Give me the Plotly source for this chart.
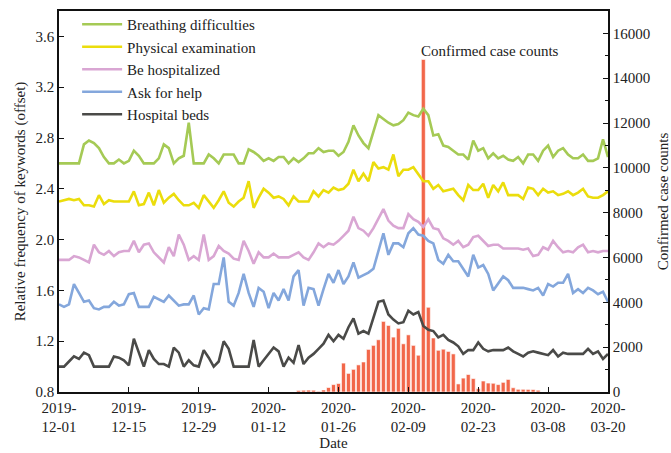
import pandas as pd
import plotly.graph_objects as go

# Daily keyword frequencies (already offset per keyword), 2019-12-01 .. 2020-03-20
start_date = "2019-12-01"
end_date = "2020-03-20"

breathing = [
    2.60, 2.60, 2.60, 2.60, 2.60, 2.75, 2.78, 2.76, 2.72, 2.65,
    2.60, 2.60, 2.63, 2.60, 2.62, 2.70, 2.66, 2.60, 2.60, 2.60,
    2.64, 2.75, 2.72, 2.60, 2.64, 2.66, 2.92, 2.60, 2.60, 2.60,
    2.67, 2.64, 2.60, 2.67, 2.67, 2.67, 2.60, 2.60, 2.71, 2.69,
    2.66, 2.62, 2.64, 2.62, 2.65, 2.65, 2.60, 2.64, 2.61, 2.64,
    2.68, 2.68, 2.72, 2.69, 2.70, 2.70, 2.66, 2.69, 2.77, 2.90,
    2.82, 2.76, 2.72, 2.85, 2.98, 2.95, 2.92, 2.90, 2.91, 2.94,
    3.00, 2.98, 2.97, 3.03, 2.98, 2.82, 2.83, 2.74, 2.73, 2.70,
    2.67, 2.67, 2.63, 2.78, 2.70, 2.72, 2.64, 2.68, 2.64, 2.66,
    2.63, 2.62, 2.65, 2.60, 2.67, 2.67, 2.62, 2.70, 2.74, 2.65,
    2.70, 2.72, 2.67, 2.64, 2.64, 2.67, 2.62, 2.62, 2.64, 2.79, 2.65,
]

physical_exam = [
    2.30, 2.31, 2.32, 2.31, 2.32, 2.27, 2.27, 2.26, 2.35, 2.28,
    2.31, 2.30, 2.30, 2.30, 2.30, 2.38, 2.27, 2.28, 2.37, 2.27,
    2.39, 2.29, 2.33, 2.36, 2.31, 2.27, 2.27, 2.29, 2.25, 2.35,
    2.30, 2.25, 2.31, 2.38, 2.29, 2.26, 2.30, 2.33, 2.46, 2.25,
    2.33, 2.40, 2.37, 2.33, 2.34, 2.32, 2.27, 2.34, 2.30, 2.30,
    2.30, 2.38, 2.34, 2.39, 2.37, 2.41, 2.39, 2.40, 2.44, 2.55,
    2.46, 2.52, 2.46, 2.61, 2.56, 2.57, 2.55, 2.67, 2.50, 2.55,
    2.55, 2.57, 2.51, 2.46, 2.46, 2.40, 2.43, 2.38, 2.39, 2.40,
    2.35, 2.31, 2.43, 2.39, 2.39, 2.44, 2.33, 2.43, 2.38, 2.45,
    2.35, 2.35, 2.35, 2.32, 2.41, 2.40, 2.35, 2.40, 2.37, 2.38,
    2.35, 2.36, 2.38, 2.35, 2.37, 2.40, 2.34, 2.33, 2.33, 2.35, 2.38,
]

hospitalized = [
    1.84, 1.84, 1.84, 1.87, 1.86, 1.84, 1.82, 1.96, 1.90, 1.88,
    1.91, 1.87, 1.90, 1.91, 1.91, 1.99, 1.90, 1.96, 1.97, 1.90,
    1.86, 1.82, 1.94, 1.87, 2.04, 1.96, 1.84, 1.87, 1.84, 2.04,
    1.84, 1.87, 1.95, 1.91, 1.89, 1.85, 1.84, 1.99, 1.91, 1.81,
    1.90, 1.86, 1.86, 1.89, 1.86, 1.86, 1.86, 1.88, 1.90, 1.86,
    1.84, 1.90, 1.97, 1.94, 1.97, 1.96, 1.99, 2.03, 2.07, 2.18,
    2.09, 2.07, 2.03, 2.09, 2.17, 2.24, 2.15, 2.11, 2.09, 2.09,
    2.20, 2.16, 2.14, 2.10, 2.16, 2.09, 2.08, 2.01, 1.99, 1.96,
    1.99, 1.94, 1.96, 2.02, 2.03, 1.99, 1.95, 1.96, 1.96, 1.93,
    1.93, 1.93, 1.93, 1.92, 1.93, 1.87, 1.88, 1.94, 1.92, 1.99,
    1.94, 1.90, 1.91, 1.90, 1.94, 1.96, 1.90, 1.91, 1.90, 1.91, 1.91,
]

ask_for_help = [
    1.49, 1.47, 1.49, 1.65, 1.58, 1.51, 1.52, 1.46, 1.45, 1.47,
    1.47, 1.51, 1.48, 1.49, 1.57, 1.58, 1.47, 1.47, 1.47, 1.55,
    1.53, 1.51, 1.56, 1.52, 1.48, 1.49, 1.49, 1.56, 1.41, 1.46,
    1.45, 1.65, 1.65, 1.86, 1.51, 1.48, 1.58, 1.73, 1.58, 1.47,
    1.62, 1.59, 1.46, 1.58, 1.52, 1.61, 1.52, 1.71, 1.76, 1.48,
    1.62, 1.61, 1.48, 1.61, 1.73, 1.66, 1.76, 1.65, 1.71, 1.82,
    1.70, 1.72, 1.74, 1.77, 1.92, 2.05, 1.88, 1.97, 1.97, 1.94,
    2.05, 2.09, 2.04, 2.03, 1.99, 1.97, 1.84, 1.81, 1.88, 1.83,
    1.83, 1.77, 1.71, 1.88, 1.78, 1.80, 1.73, 1.60, 1.66, 1.71,
    1.68, 1.62, 1.62, 1.62, 1.61, 1.60, 1.62, 1.56, 1.65, 1.63,
    1.66, 1.66, 1.73, 1.58, 1.61, 1.58, 1.62, 1.60, 1.57, 1.59, 1.51,
]

hospital_beds = [
    1.00, 1.00, 1.04, 1.08, 1.06, 1.11, 1.09, 1.00, 1.00, 1.00,
    1.00, 1.08, 1.07, 1.05, 1.01, 1.22, 1.11, 1.00, 1.13, 1.06,
    1.02, 1.02, 1.00, 1.15, 1.11, 1.00, 1.05, 1.01, 1.00, 1.13,
    1.07, 1.00, 1.04, 1.20, 1.14, 1.00, 1.00, 1.00, 1.00, 1.21,
    1.00, 1.05, 1.10, 1.15, 1.12, 1.00, 1.07, 1.03, 1.17, 1.02,
    1.07, 1.10, 1.14, 1.18, 1.25, 1.20, 1.25, 1.22, 1.31, 1.38,
    1.26, 1.28, 1.26, 1.38, 1.51, 1.52, 1.41, 1.37, 1.34, 1.35,
    1.44, 1.41, 1.43, 1.32, 1.29, 1.28, 1.23, 1.25, 1.21, 1.19,
    1.16, 1.10, 1.13, 1.13, 1.19, 1.14, 1.12, 1.13, 1.13, 1.13,
    1.15, 1.12, 1.10, 1.08, 1.11, 1.12, 1.11, 1.10, 1.09, 1.13,
    1.08, 1.11, 1.10, 1.10, 1.10, 1.10, 1.14, 1.10, 1.12, 1.06, 1.10,
]

# Daily confirmed case counts, 2020-01-18 .. 2020-03-06
cases_start = "2020-01-18"
confirmed_cases = [
    70, 80, 85, 80, 30, 90, 200, 330, 380, 1290,
    830, 1010, 1210, 1340, 1900, 2080, 2330, 3150, 2970, 2450,
    2840, 2150, 2550, 2080, 1640, 14840, 3780, 2410, 1860, 1910,
    1810, 1700, 360, 620, 780, 600, 150, 490, 400, 390,
    330, 430, 560, 190, 120, 120, 115, 110, 80,
]

tick_dates = ["2019-12-01", "2019-12-15", "2019-12-29", "2020-01-12", "2020-01-26",
              "2020-02-09", "2020-02-23", "2020-03-08", "2020-03-20"]
tick_labels = [d[:5] + "<br>" + d[5:] for d in tick_dates]
left_ticks = [0.8, 1.2, 1.6, 2.0, 2.4, 2.8, 3.2, 3.6]
right_ticks = [0, 2000, 4000, 6000, 8000, 10000, 12000, 14000, 16000]

keywords = [
    ("Breathing difficulties", breathing, "#a5ca55"),
    ("Physical examination", physical_exam, "#ebdd0c"),
    ("Be hospitalized", hospitalized, "#d9a6d3"),
    ("Ask for help", ask_for_help, "#84a7dc"),
    ("Hospital beds", hospital_beds, "#4a4a48"),
]

SERIF = "Liberation Serif, Times New Roman, serif"
TEXT = dict(family=SERIF, size=15, color="#222")

days = pd.date_range(start_date, periods=len(breathing), freq="D")
case_days = pd.date_range(cases_start, periods=len(confirmed_cases), freq="D")
peak_idx = confirmed_cases.index(max(confirmed_cases))

fig = go.Figure()

# Bars live on the primary (right-hand) axis so the keyword lines sit on top
fig.add_trace(go.Bar(
    x=case_days, y=confirmed_cases, yaxis="y",
    width=0.8 * 86400000,
    marker=dict(color="#f2674a", line=dict(color="white", width=0.6)),
    showlegend=False, name="Confirmed case counts",
))

for name, values, color in keywords:
    fig.add_trace(go.Scatter(
        x=days, y=values, yaxis="y2", mode="lines", name=name,
        line=dict(color=color, width=2.6),
    ))

fig.add_annotation(
    x=case_days[peak_idx], y=confirmed_cases[peak_idx], xref="x", yref="y",
    text="Confirmed case counts", showarrow=False,
    xanchor="left", yanchor="bottom", xshift=-4, yshift=-2,
    font=TEXT,
)

axis_line = dict(showline=True, linecolor="#111", linewidth=1.6, showgrid=False,
                 zeroline=False, tickfont=TEXT, automargin=False)

fig.update_layout(
    width=671, height=453,
    margin=dict(l=59, r=63, t=8, b=61),
    plot_bgcolor="white", paper_bgcolor="white",
    font=TEXT,
    xaxis=dict(
        type="date", range=[start_date, end_date],
        tickvals=tick_dates, ticktext=tick_labels,
        ticks="inside", ticklen=5, tickcolor="#111", mirror=True,
        ticklabelstandoff=1,
        title=dict(text="Date", standoff=2, font=TEXT),
        **axis_line,
    ),
    yaxis=dict(
        side="right", range=[0, 17000], tickvals=right_ticks,
        ticktext=[str(v) for v in right_ticks],
        ticks="inside", ticklen=5, tickcolor="#111",
        minor=dict(ticks="inside", ticklen=3, dtick=1000, tickcolor="#111"),
        title=dict(text="Confirmed case counts", standoff=8, font=TEXT),
        **axis_line,
    ),
    yaxis2=dict(
        side="left", overlaying="y", range=[0.8, 3.8], tickvals=left_ticks,
        tickformat=".1f", ticks="inside", ticklen=5, tickcolor="#111",
        title=dict(text="Relative frequency of keywords (offset)", standoff=6, font=TEXT),
        **axis_line,
    ),
    legend=dict(
        x=0.033, y=1.008, xanchor="left", yanchor="top",
        bgcolor="rgba(0,0,0,0)", itemwidth=40, tracegroupgap=0,
        font=TEXT,
    ),
)

fig.write_html("out.html")
